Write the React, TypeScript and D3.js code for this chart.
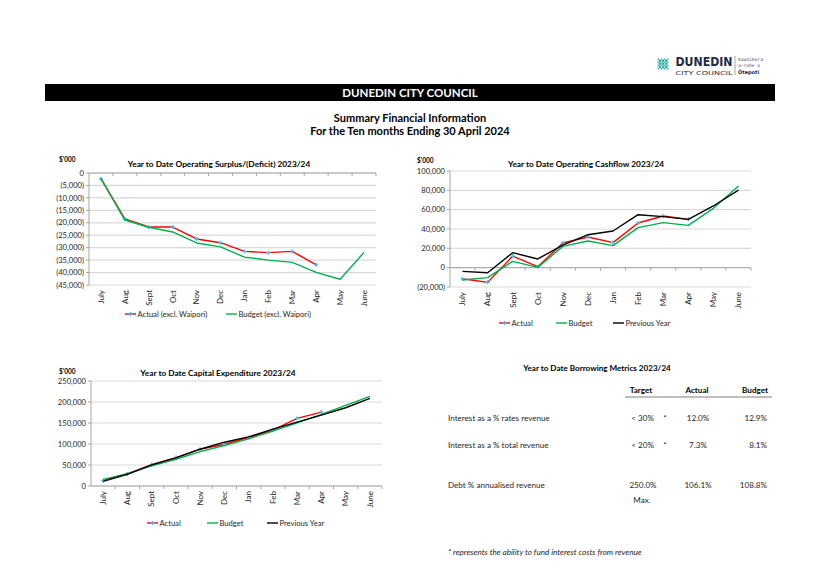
import * as React from "react";
import * as d3 from "d3";

// ---- data ($'000) ----
const months = ["July", "Aug", "Sept", "Oct", "Nov", "Dec", "Jan", "Feb", "Mar", "Apr", "May", "June"];

const surplusActual = [-2300, -18400, -21700, -21700, -26500, -28000, -31500, -32000, -31500, -36900];
const surplusBudget = [-2300, -18900, -21800, -23700, -28100, -29700, -33800, -35000, -35900, -39900, -42700, -31900];
const surplusTicks = [0, -5000, -10000, -15000, -20000, -25000, -30000, -35000, -40000, -45000];

const cashActual = [-11500, -15200, 12000, 1000, 25500, 31700, 25900, 46200, 53400, 50000];
const cashBudget = [-12800, -10300, 6500, 300, 22000, 27600, 22800, 41400, 46600, 43800, 61400, 84500];
const cashPrevious = [-3800, -5200, 15500, 9000, 23400, 34100, 37900, 54800, 52800, 50000, 63800, 80300];
const cashTicks = [-20000, 0, 20000, 40000, 60000, 80000, 100000];

const capexActual = [12700, 28700, 51000, 67700, 87600, 99500, 115400, 133000, 161000, 176000];
const capexBudget = [15900, 29500, 47800, 63700, 82000, 96300, 112300, 130600, 150500, 170400, 191900, 213400];
const capexPrevious = [11100, 27900, 50200, 66900, 87600, 104300, 117000, 135400, 152100, 168800, 186300, 208600];
const capexTicks = [0, 50000, 100000, 150000, 200000, 250000];

const metricRows = ["Interest as a % rates revenue", "Interest as a % total revenue", "Debt % annualised revenue"];
const metricTarget = ["< 30%", "< 20%", "250.0%"];
const metricStar = ["*", "*", ""];
const metricActual = ["12.0%", "7.3%", "106.1%"];
const metricBudget = ["12.9%", "8.1%", "108.8%"];

const FONT = "Lato, 'Open Sans', sans-serif";
const RED = "#FF0000";
const GREEN = "#00B050";
const BLACK = "#000000";
const GRID = "#D9D9D9";

const fmt = (v: number) => (v < 0 ? `(${d3.format(",")(-v)})` : d3.format(",")(v));

interface Series {
  name: string;
  values: number[];
  color: string;
  markers?: boolean;
}

interface ChartProps {
  title: string;
  titleX: number;
  titleY: number;
  unitX: number;
  unitY: number;
  left: number;
  top: number;
  right: number;
  bottom: number;
  domain: [number, number];
  ticks: number[];
  axisAt: number;
  series: Series[];
  legendY: number;
  legendX: number[];
}

function LineChart(p: ChartProps) {
  const x = d3.scaleBand<string>().domain(months).range([p.left, p.right]).padding(0);
  const y = d3.scaleLinear().domain(p.domain).range([p.bottom, p.top]);
  const cx = (i: number) => x(months[i])! + x.bandwidth() / 2;
  const line = d3.line<number>().x((_, i) => cx(i)).y((d) => y(d));
  const marker = d3.symbol(d3.symbolCross, 9)();
  const axisY = y(p.axisAt);

  return (
    <g fontFamily={FONT}>
      <text x={p.unitX} y={p.unitY} fontSize={6.5} fontWeight="bold">$'000</text>
      <text x={p.titleX} y={p.titleY} fontSize={8.3} fontWeight="bold" textAnchor="middle">{p.title}</text>
      {p.ticks.map((t) => (
        <g key={t}>
          <line x1={p.left} x2={p.right} y1={y(t)} y2={y(t)} stroke={GRID} strokeWidth={1.2} />
          <line x1={p.left - 3} x2={p.left} y1={y(t)} y2={y(t)} stroke="#A6A6A6" />
          <text x={p.left - 5} y={y(t)} dy="0.35em" fontSize={7.6} textAnchor="end" fill="#262626">{fmt(t)}</text>
        </g>
      ))}
      <line x1={p.left} x2={p.left} y1={p.top} y2={p.bottom} stroke="#A6A6A6" />
      <line x1={p.left} x2={p.right} y1={axisY} y2={axisY} stroke="#A6A6A6" />
      {months.map((m) => (
        <line key={m} x1={x(m)! + x.bandwidth()} x2={x(m)! + x.bandwidth()} y1={axisY} y2={axisY + 3} stroke="#A6A6A6" />
      ))}
      {months.map((m, i) => (
        <text key={m} transform={`translate(${cx(i) + 2.8},${p.bottom + 5}) rotate(-90)`}
          fontSize={8} textAnchor="end" fill="#262626">{m}</text>
      ))}
      {p.series.map((s) => (
        <g key={s.name}>
          <path d={line(s.values)!} fill="none" stroke={s.color} strokeWidth={1.4} strokeLinejoin="round" />
          {s.markers && s.values.map((v, i) => (
            <path key={i} d={marker!} transform={`translate(${cx(i)},${y(v)})`} fill="#4DB8E8" />
          ))}
        </g>
      ))}
      {p.series.map((s, i) => (
        <g key={s.name} transform={`translate(${p.legendX[i]},${p.legendY})`}>
          <line x1={0} x2={11} y1={0} y2={0} stroke={s.color} strokeWidth={1.4} />
          {s.markers && <path d={marker!} transform="translate(5.5,0)" fill="#4DB8E8" />}
          <text x={12.5} y={0} dy="0.35em" fontSize={7.6} fill="#262626">{s.name}</text>
        </g>
      ))}
    </g>
  );
}

function Logo() {
  const dots: [number, number][] = [];
  for (let i = -3; i <= 3; i++) {
    for (let j = -3; j <= 3; j++) {
      if (Math.abs(i) + Math.abs(j) <= 3) dots.push([i, j]);
    }
  }
  return (
    <g>
      {dots.map(([i, j]) => (
        <circle key={`${i}_${j}`} cx={663 + (i - j) * 1.55} cy={64 + (i + j) * 1.55} r={1.15}
          fill={(i + j) % 2 === 0 ? "#1FA39A" : "#5FC0BA"} />
      ))}
      <text x={675.5} y={66.3} fontSize={11.5} fontWeight="900" fill="#1B2A47" fontFamily="'DejaVu Sans', sans-serif"
        textLength={57} lengthAdjust="spacingAndGlyphs">DUNEDIN</text>
      <text x={675.5} y={74.5} fontSize={5.4} fill="#1B2A47" fontFamily="'DejaVu Sans', sans-serif"
        textLength={57} lengthAdjust="spacingAndGlyphs">CITY COUNCIL</text>
      <line x1={735} x2={735} y1={56} y2={75} stroke="#8A8F99" strokeWidth={0.8} />
      <text x={738} y={61} fontSize={4.6} fill="#444" fontFamily="'DejaVu Sans Mono', monospace">kaunihera</text>
      <text x={738} y={67} fontSize={4.6} fill="#444" fontFamily="'DejaVu Sans Mono', monospace">a-rohe o</text>
      <text x={738} y={73.5} fontSize={5} fontWeight="bold" fill="#1B2A47" fontFamily="'DejaVu Sans', sans-serif">Ōtepoti</text>
    </g>
  );
}

function MetricsTable() {
  const rowY = [418, 445, 485];
  return (
    <g fontFamily={FONT} fontSize={8.1} fill="#262626">
      <text x={597} y={368} dy="0.35em" fontWeight="bold" textAnchor="middle" fill="#000">Year to Date Borrowing Metrics 2023/24</text>
      <text x={641} y={390} dy="0.35em" fontWeight="bold" textAnchor="middle" fill="#000">Target</text>
      <text x={697} y={390} dy="0.35em" fontWeight="bold" textAnchor="middle" fill="#000">Actual</text>
      <text x={768} y={390} dy="0.35em" fontWeight="bold" textAnchor="end" fill="#000">Budget</text>
      <line x1={625} x2={772} y1={397} y2={397} stroke="#7F7F7F" strokeWidth={1} />
      {metricRows.map((r, i) => (
        <g key={r}>
          <text x={448} y={rowY[i]} dy="0.35em">{r}</text>
          {metricStar[i] ? (
            <>
              <text x={654} y={rowY[i]} dy="0.35em" textAnchor="end">{metricTarget[i]}</text>
              <text x={665} y={rowY[i]} dy="0.35em" textAnchor="middle">{metricStar[i]}</text>
            </>
          ) : (
            <text x={643} y={rowY[i]} dy="0.35em" textAnchor="middle">{metricTarget[i]}</text>
          )}
          <text x={698} y={rowY[i]} dy="0.35em" textAnchor="middle">{metricActual[i]}</text>
          <text x={767} y={rowY[i]} dy="0.35em" textAnchor="end">{metricBudget[i]}</text>
        </g>
      ))}
      <text x={642} y={500} dy="0.35em" textAnchor="middle">Max.</text>
      <text x={448} y={552} dy="0.35em" fontStyle="italic">* represents the ability to fund interest costs from revenue</text>
    </g>
  );
}

export default function App() {
  return (
    <div style={{ position: "absolute", left: 0, top: 0 }}>
      <svg width={817} height={578} style={{ display: "block", background: "#fff" }}>
        <Logo />
        <rect x={45} y={84} width={730} height={17} fill="#000" />
        <text x={410} y={92.5} dy="0.35em" textAnchor="middle" fill="#fff" fontFamily={FONT} fontWeight="bold" fontSize={11.5}>
          DUNEDIN CITY COUNCIL
        </text>
        <text x={410} y={118} dy="0.35em" textAnchor="middle" fontFamily={FONT} fontWeight="bold" fontSize={11}>
          Summary Financial Information
        </text>
        <text x={410} y={131.5} dy="0.35em" textAnchor="middle" fontFamily={FONT} fontWeight="bold" fontSize={11}>
          For the Ten months Ending 30 April 2024
        </text>

        <LineChart
          title="Year to Date Operating Surplus/(Deficit) 2023/24"
          titleX={219} titleY={167} unitX={59} unitY={162}
          left={89} top={173} right={376} bottom={285}
          domain={[-45000, 0]} ticks={surplusTicks} axisAt={0}
          series={[
            { name: "Actual (excl. Waipori)", values: surplusActual, color: RED, markers: true },
            { name: "Budget (excl. Waipori)", values: surplusBudget, color: GREEN },
          ]}
          legendY={314} legendX={[125, 226]}
        />

        <LineChart
          title="Year to Date Operating Cashflow 2023/24"
          titleX={586} titleY={167} unitX={417} unitY={163}
          left={450} top={171} right={751} bottom={287}
          domain={[-20000, 100000]} ticks={cashTicks} axisAt={0}
          series={[
            { name: "Actual", values: cashActual, color: RED, markers: true },
            { name: "Budget", values: cashBudget, color: GREEN },
            { name: "Previous Year", values: cashPrevious, color: BLACK },
          ]}
          legendY={323} legendX={[499, 556, 613]}
        />

        <LineChart
          title="Year to Date Capital Expenditure 2023/24"
          titleX={218} titleY={376} unitX={59} unitY={374}
          left={91} top={381} right={382} bottom={486}
          domain={[0, 250000]} ticks={capexTicks} axisAt={0}
          series={[
            { name: "Actual", values: capexActual, color: RED, markers: true },
            { name: "Budget", values: capexBudget, color: GREEN },
            { name: "Previous Year", values: capexPrevious, color: BLACK },
          ]}
          legendY={523} legendX={[147, 207, 267]}
        />

        <MetricsTable />
      </svg>
    </div>
  );
}
